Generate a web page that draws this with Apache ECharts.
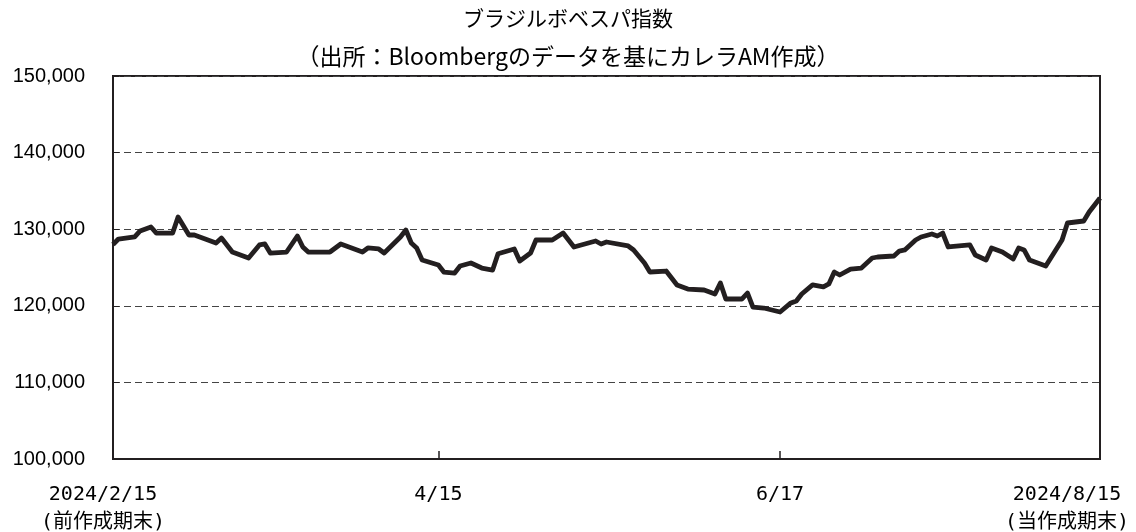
<!DOCTYPE html>
<html>
<head>
<meta charset="utf-8">
<script src="https://cdn.jsdelivr.net/npm/echarts@6/dist/echarts.min.js"></script>
<style>
html,body{margin:0;padding:0;background:#fff;}
#c{width:1136px;height:532px;}
</style>
</head>
<body>
<div id="c"></div>
<script>
const YEAR = 2024;
const dates = ["2/15","2/16","2/19","2/20","2/22","2/23","2/26","2/27","2/29","3/1",
"3/5","3/6","3/8","3/11","3/13","3/14","3/15","3/18","3/20","3/21",
"3/22","3/26","3/28","4/1","4/2","4/4","4/5","4/8","4/9","4/10",
"4/11","4/12","4/15","4/16","4/18","4/19","4/21","4/23","4/25","4/26",
"4/29","4/30","5/2","5/3","5/6","5/8","5/10","5/12","5/14","5/15",
"5/16","5/20","5/21","5/23","5/24","5/27","5/29","5/31","6/3","6/5",
"6/6","6/7","6/10","6/11","6/12","6/14","6/17","6/19","6/20","6/21",
"6/23","6/25","6/26","6/27","6/28","6/30","7/2","7/4","7/5","7/8",
"7/9","7/10","7/12","7/13","7/15","7/16","7/17","7/18","7/22","7/23",
"7/25","7/26","7/28","7/30","7/31","8/1","8/2","8/5","8/8","8/9",
"8/12","8/13","8/15"];
const bovespa = [128000,128720,129000,129770,130290,129500,129500,131600,129240,129240,
128200,128850,127020,126240,127940,128070,126890,127020,129110,127680,
127020,127020,128070,127020,127550,127420,126890,128980,129900,128200,
127550,125980,125330,124410,124280,125200,125590,124930,124670,126800,
127420,125850,126890,128590,128590,129500,127680,128070,128460,128070,
128330,127810,127290,125590,124410,124540,122720,122190,122060,121540,
122980,120890,120890,121670,119840,119710,119190,120370,120630,121540,
122720,122460,122850,124410,124020,124800,124930,126240,126370,126500,
127150,127290,128590,128980,129370,129110,129500,127680,127940,126630,
125980,127550,127020,126110,127550,127290,125980,125200,128590,130810,
131070,132250,134070];
const labelDates = ["2/15","4/15","6/17","8/15"];
const labelTexts = ["2024/2/15\n(前作成期末)","4/15","6/17","2024/8/15\n(当作成期末)"];
const tickDates = ["4/15","6/17"];
const titleText = "ブラジルボベスパ指数";
const subTitleText = "（出所：Bloombergのデータを基にカレラAM作成）";

function ts(s){const p=s.split("/");return Date.UTC(YEAR,+p[0]-1,+p[1])/86400000;}
const seriesData = dates.map((d,i)=>[ts(d),bovespa[i]]);
const labelTs = labelDates.map(ts);
const tickTs = tickDates.map(ts);
const FONT_X = '"DejaVu Sans Mono","Noto Sans CJK JP"';

const chart = echarts.init(document.getElementById('c'));
chart.setOption({
  animation:false,
  backgroundColor:'#fff',
  title:{
    text:titleText, subtext:subTitleText, left:'center', top:3, itemGap:16,
    textStyle:{fontFamily:'"Noto Sans CJK JP"',fontSize:21,fontWeight:'normal',color:'#000'},
    subtextStyle:{fontFamily:'"Noto Sans CJK JP"',fontSize:23,color:'#000'}
  },
  grid:{left:113,right:36,top:76,bottom:73,show:true,borderColor:'#231f20',borderWidth:2,
    containLabel:false,outerBoundsMode:'none'},
  xAxis:{
    type:'value', min:ts(dates[0]), max:ts(dates[dates.length-1]),
    axisLine:{show:true,lineStyle:{color:'#231f20',width:2}},
    splitLine:{show:false},
    axisTick:{show:true,inside:true,length:8,customValues:tickTs,lineStyle:{color:'#231f20',width:1.5}},
    axisLabel:{
      customValues:labelTs, margin:22, showMinLabel:true, showMaxLabel:true,
      fontFamily:FONT_X, fontSize:20, color:'#000',
      formatter:function(v){
        const i = labelTs.indexOf(v);
        const t = i>=0?labelTexts[i]:'';
        const lines = t.split('\n');
        const key = i===0?'a':(i===labelTs.length-1?'b':'c');
        return lines.map(l=>'{'+key+'|'+l+'}').join('\n');
      },
      rich:{
        a:{fontFamily:FONT_X,fontSize:20,color:'#000',lineHeight:28,padding:[0,20,0,0]},
        b:{fontFamily:FONT_X,fontSize:20,color:'#000',lineHeight:28,padding:[0,66,0,0]},
        c:{fontFamily:FONT_X,fontSize:20,color:'#000',lineHeight:28}
      }
    }
  },
  yAxis:{
    type:'value', min:100000, max:150000, interval:10000,
    axisLine:{show:true,lineStyle:{color:'#231f20',width:2}},
    axisTick:{show:true,inside:true,length:6,lineStyle:{color:'#231f20'}},
    splitLine:{show:true,lineStyle:{color:'#444',type:[7,4],width:1}},
    axisLabel:{margin:28,fontFamily:'"Liberation Sans",Arial',fontSize:20,color:'#000',
      formatter:function(v){return v.toLocaleString('en-US');}}
  },
  series:[{
    type:'line', data:seriesData, showSymbol:false, symbol:'none',
    lineStyle:{color:'#231f20',width:4.8,join:'round'}
  }]
});
</script>
</body>
</html>
